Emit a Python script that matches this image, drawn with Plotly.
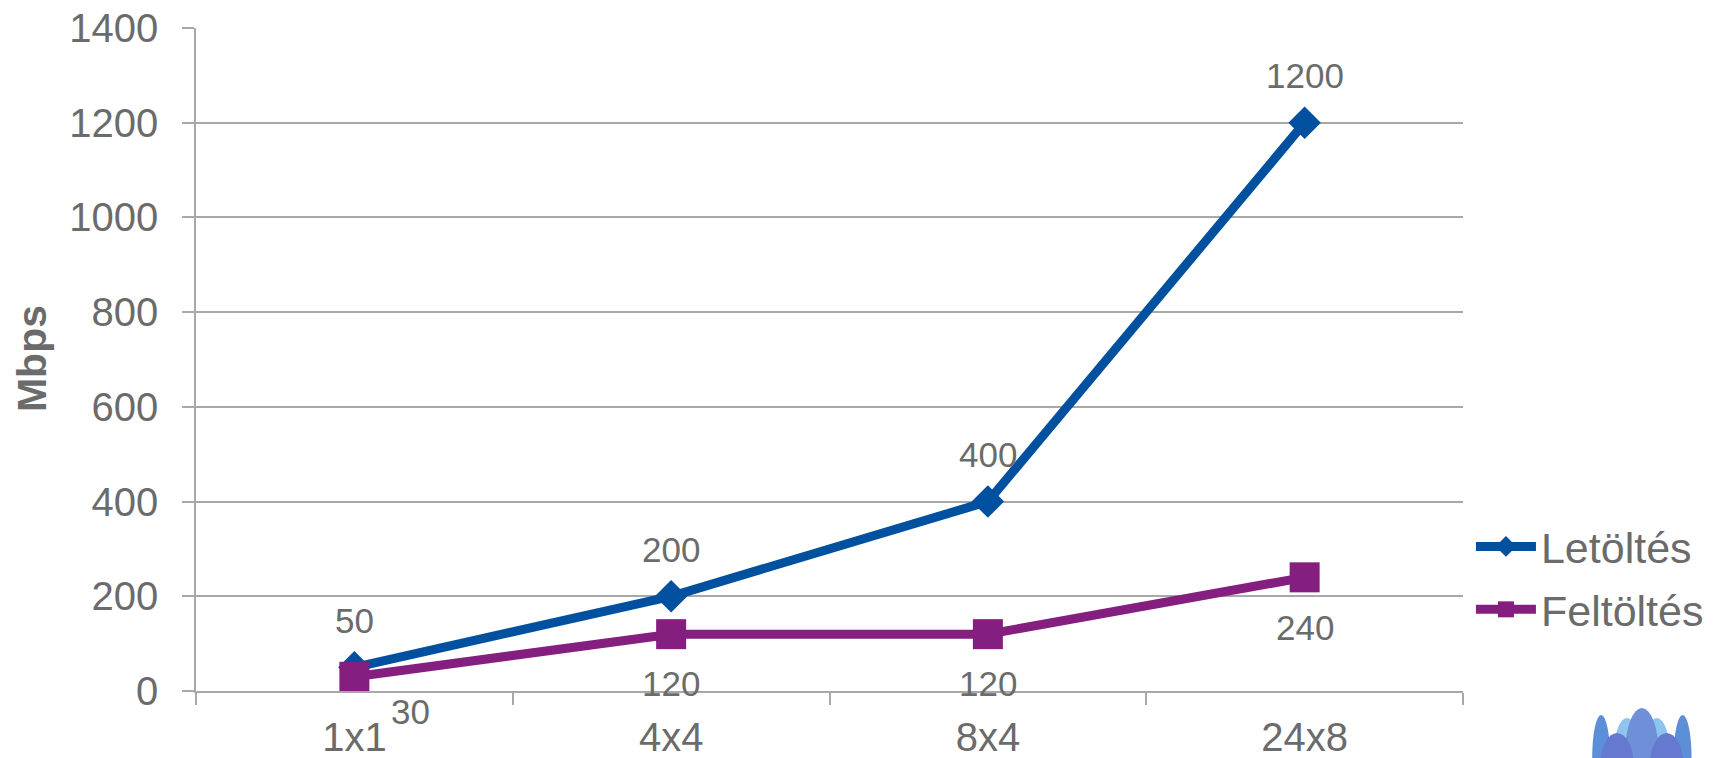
import plotly.graph_objects as go

# Data
categories = ["1x1", "4x4", "8x4", "24x8"]
letoltes = [50, 200, 400, 1200]
feltoltes = [30, 120, 120, 240]
y_ticks = [0, 200, 400, 600, 800, 1000, 1200, 1400]

BLUE = "#0050A0"
PURPLE = "#841F7F"
GRAY_TEXT = "#6b6b6b"
GRID = "#a8a8a8"
FONT = "Arial, Liberation Sans, sans-serif"

# Plot area in pixels
L, R, T, B = 196, 1471, 28, 691
W, H = 1721, 758


def px_x(x):
    return (x - L) / (R - L)


def px_y(y):
    return (B - y) / (B - T)


fig = go.Figure()
fig.add_trace(go.Scatter(
    x=categories, y=letoltes, name="Letöltés", mode="lines+markers",
    legendgroup="a",
    line=dict(color=BLUE, width=9),
    marker=dict(symbol="diamond", size=25, color=BLUE),
))
fig.add_trace(go.Scatter(
    x=categories, y=feltoltes, name="Feltöltés", mode="lines+markers",
    legendgroup="b",
    line=dict(color=PURPLE, width=9),
    marker=dict(symbol="square", size=30, color=PURPLE),
))

# Value labels: download above the points, upload below
annotations = []
for c, v in zip(categories, letoltes):
    annotations.append(dict(x=c, y=v, text=str(v), showarrow=False,
                            xanchor="center", yanchor="middle", yshift=47,
                            font=dict(size=35, color=GRAY_TEXT, family=FONT)))
up_xshift = [56, 0, 0, 0]
up_yshift = [-35, -49, -49, -50]
for c, v, dx, dy in zip(categories, feltoltes, up_xshift, up_yshift):
    annotations.append(dict(x=c, y=v, text=str(v), showarrow=False,
                            xanchor="center", yanchor="middle",
                            xshift=dx, yshift=dy,
                            font=dict(size=35, color=GRAY_TEXT, family=FONT)))

# Rotated axis caption
annotations.append(dict(xref="paper", yref="paper", x=px_x(31), y=px_y(359),
                        text="<b>Mbps</b>", textangle=-90, showarrow=False,
                        xanchor="center", yanchor="middle",
                        font=dict(size=41, color=GRAY_TEXT, family=FONT)))

# Lotus logo in the lower right corner
logo = [
    (1601, 715, 1619, 800, "#5c8fd8"),
    (1683, 715, 1701, 800, "#5c8fd8"),
    (1622, 718, 1650, 800, "#8fc4ef"),
    (1652, 718, 1680, 800, "#8fc4ef"),
    (1634, 708, 1668, 800, "#6f8fd8"),
    (1609, 733, 1643, 800, "#6579d0"),
    (1659, 733, 1693, 800, "#6579d0"),
]
shapes = []
for x0, y0, x1, y1, col in logo:
    shapes.append(dict(type="circle", xref="paper", yref="paper",
                       x0=px_x(x0), x1=px_x(x1), y0=px_y(y1), y1=px_y(y0),
                       fillcolor=col, line=dict(width=0), layer="above"))

fig.update_layout(
    width=W, height=H,
    margin=dict(l=L, r=W - R, t=T, b=H - B),
    paper_bgcolor="white", plot_bgcolor="white",
    font=dict(family=FONT, color=GRAY_TEXT, size=40),
    showlegend=True,
    legend=dict(x=px_x(1479), y=px_y(512), xanchor="left", yanchor="top",
                font=dict(size=43, color=GRAY_TEXT, family=FONT),
                itemwidth=60, bgcolor="rgba(0,0,0,0)", tracegroupgap=4),
    annotations=annotations,
    shapes=shapes,
)
fig.update_xaxes(
    type="category", range=[-0.5, 3.5], automargin=False,
    showgrid=False, showline=True, linecolor=GRID, linewidth=1.5,
    ticks="outside", tickson="boundaries", ticklen=12, tickcolor=GRID, tickwidth=1.5,
    tickfont=dict(size=40, color=GRAY_TEXT, family=FONT),
    ticklabelstandoff=10,
)
fig.update_yaxes(
    range=[0, 1400], tickvals=y_ticks, automargin=False,
    showgrid=True, gridcolor=GRID, gridwidth=1.5,
    showline=True, linecolor=GRID, linewidth=1.5,
    ticks="outside", ticklen=12, tickcolor=GRID, tickwidth=1.5,
    tickfont=dict(size=40, color=GRAY_TEXT, family=FONT),
    ticklabelstandoff=16, zeroline=False,
)

fig.write_html("out.html")
